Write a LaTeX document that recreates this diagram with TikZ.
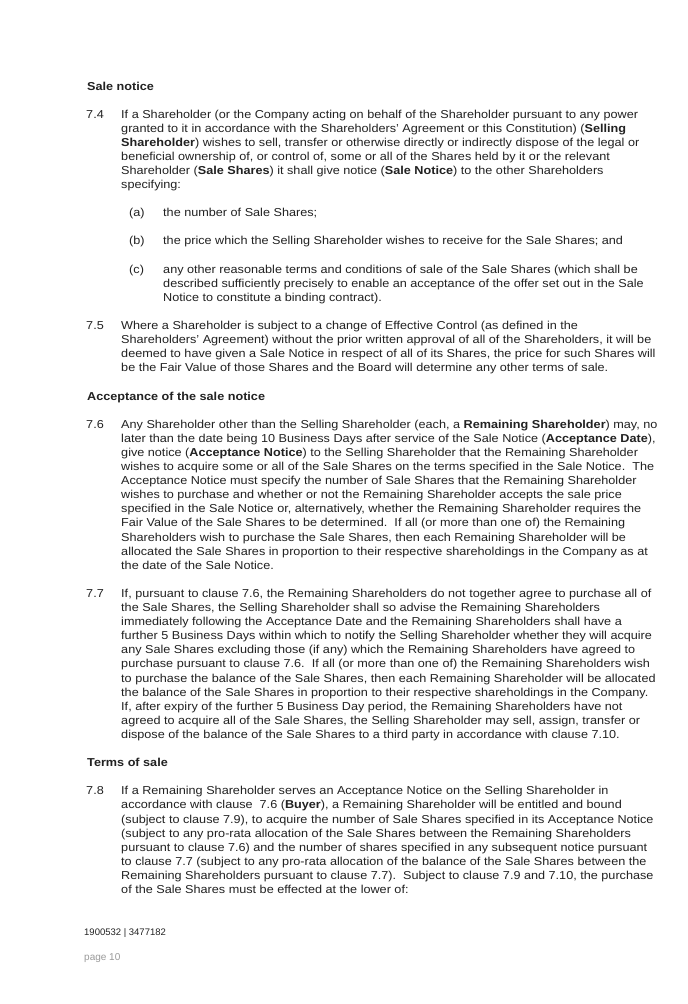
\documentclass[tikz,border=0pt]{standalone}
\usepackage{fontspec}
\setmainfont{Liberation Sans}
\usepackage{xcolor}
\definecolor{inkdark}{HTML}{222222}
\definecolor{inkfaint}{HTML}{9A9A9A}
\usepackage{tikz}
\usetikzlibrary{positioning}

\begin{document}
\begin{tikzpicture}[x=1pt, y=-1pt,
    plain/.style={anchor=base west, inner sep=0pt, align=left, text=inkdark},
    para/.style={plain, xscale=1.10, yshift={-14.1pt*(#1-1)},
      font=\fontsize{11.5}{14.1}\selectfont},
    para/.default=1,
    clausenum/.style={para},
    heading/.style={para, font=\fontsize{11.5}{14.1}\selectfont\bfseries}]
  \useasboundingbox (0,0) rectangle (688,1004);
  \fill[white] (0,0) rectangle (688,1004);
  % Sale notice
  \node[heading] (headsale) at (87,90) {Sale notice};
  \node[clausenum] (num74) at (86,118) {7.4};
  \node[para=6] (text74) at (121,118) {If a Shareholder (or the Company acting on behalf of the Shareholder pursuant to any power\\
    granted to it in accordance with the Shareholders' Agreement or this Constitution) (\textbf{Selling}\\
    \textbf{Shareholder}) wishes to sell, transfer or otherwise directly or indirectly dispose of the legal or\\
    beneficial ownership of, or control of, some or all of the Shares held by it or the relevant\\
    Shareholder (\textbf{Sale Shares}) it shall give notice (\textbf{Sale Notice}) to the other Shareholders\\
    specifying:};
  \node[clausenum] (numa) at (129,216.7) {(a)};
  \node[para] (texta) at (163,216.7) {the number of Sale Shares;};
  \node[clausenum] (numb) at (129,244.9) {(b)};
  \node[para] (textb) at (163,244.9) {the price which the Selling Shareholder wishes to receive for the Sale Shares; and};
  \node[clausenum] (numc) at (129,273.1) {(c)};
  \node[para=3] (textc) at (163,273.1) {any other reasonable terms and conditions of sale of the Sale Shares (which shall be\\
    described sufficiently precisely to enable an acceptance of the offer set out in the Sale\\
    Notice to constitute a binding contract).};
  \node[clausenum] (num75) at (86,329.5) {7.5};
  \node[para=4] (text75) at (121,329.5) {Where a Shareholder is subject to a change of Effective Control (as defined in the\\
    Shareholders' Agreement) without the prior written approval of all of the Shareholders, it will be\\
    deemed to have given a Sale Notice in respect of all of its Shares, the price for such Shares will\\
    be the Fair Value of those Shares and the Board will determine any other terms of sale.};
  % Acceptance of the sale notice
  \node[heading] (headaccept) at (87,400) {Acceptance of the sale notice};
  \node[clausenum] (num76) at (86,428.2) {7.6};
  \node[para=11] (text76) at (121,428.2) {Any Shareholder other than the Selling Shareholder (each, a \textbf{Remaining Shareholder}) may, no\\
    later than the date being 10 Business Days after service of the Sale Notice (\textbf{Acceptance Date}),\\
    give notice (\textbf{Acceptance Notice}) to the Selling Shareholder that the Remaining Shareholder\\
    wishes to acquire some or all of the Sale Shares on the terms specified in the Sale Notice.\ \ The\\
    Acceptance Notice must specify the number of Sale Shares that the Remaining Shareholder\\
    wishes to purchase and whether or not the Remaining Shareholder accepts the sale price\\
    specified in the Sale Notice or, alternatively, whether the Remaining Shareholder requires the\\
    Fair Value of the Sale Shares to be determined.\ \ If all (or more than one of) the Remaining\\
    Shareholders wish to purchase the Sale Shares, then each Remaining Shareholder will be\\
    allocated the Sale Shares in proportion to their respective shareholdings in the Company as at\\
    the date of the Sale Notice.};
  \node[clausenum] (num77) at (86,597.4) {7.7};
  \node[para=11] (text77) at (121,597.4) {If, pursuant to clause 7.6, the Remaining Shareholders do not together agree to purchase all of\\
    the Sale Shares, the Selling Shareholder shall so advise the Remaining Shareholders\\
    immediately following the Acceptance Date and the Remaining Shareholders shall have a\\
    further 5 Business Days within which to notify the Selling Shareholder whether they will acquire\\
    any Sale Shares excluding those (if any) which the Remaining Shareholders have agreed to\\
    purchase pursuant to clause 7.6.\ \ If all (or more than one of) the Remaining Shareholders wish\\
    to purchase the balance of the Sale Shares, then each Remaining Shareholder will be allocated\\
    the balance of the Sale Shares in proportion to their respective shareholdings in the Company.\\
    If, after expiry of the further 5 Business Day period, the Remaining Shareholders have not\\
    agreed to acquire all of the Sale Shares, the Selling Shareholder may sell, assign, transfer or\\
    dispose of the balance of the Sale Shares to a third party in accordance with clause 7.10.};
  % Terms of sale
  \node[heading] (headterms) at (87,766.6) {Terms of sale};
  \node[clausenum] (num78) at (86,794.8) {7.8};
  \node[para=8] (text78) at (121,794.8) {If a Remaining Shareholder serves an Acceptance Notice on the Selling Shareholder in\\
    accordance with clause\ \ 7.6 (\textbf{Buyer}), a Remaining Shareholder will be entitled and bound\\
    (subject to clause 7.9), to acquire the number of Sale Shares specified in its Acceptance Notice\\
    (subject to any pro-rata allocation of the Sale Shares between the Remaining Shareholders\\
    pursuant to clause 7.6) and the number of shares specified in any subsequent notice pursuant\\
    to clause 7.7 (subject to any pro-rata allocation of the balance of the Sale Shares between the\\
    Remaining Shareholders pursuant to clause 7.7).\ \ Subject to clause 7.9 and 7.10, the purchase\\
    of the Sale Shares must be effected at the lower of:};
  % Footer
  \node[plain, font=\fontsize{9.5}{11}\selectfont] (docref) at (84,935) {1900532 | 3477182};
  \node[plain, text=inkfaint, font=\fontsize{10}{12}\selectfont] (pagenum) at (84,960) {page 10};
\end{tikzpicture}
\end{document}
